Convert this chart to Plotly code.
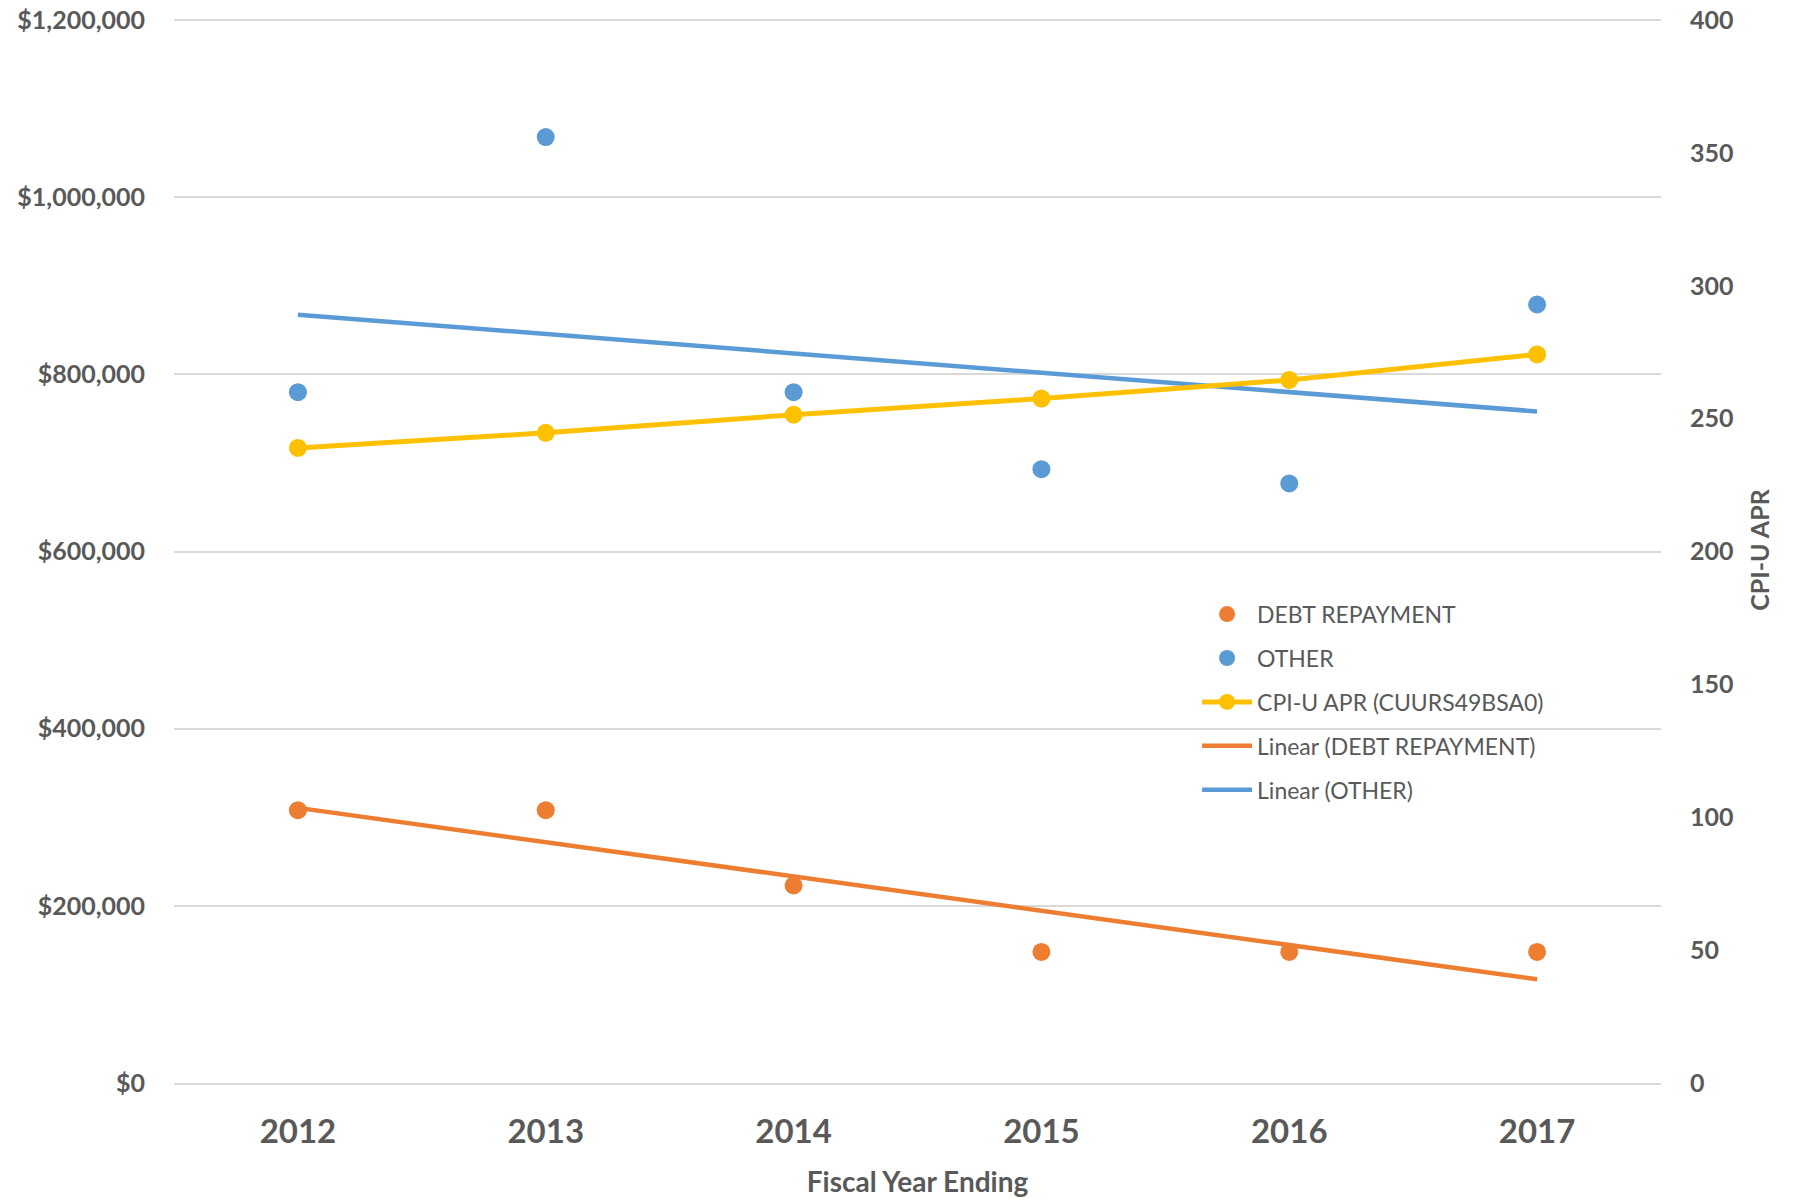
import numpy as np
import plotly.graph_objects as go

# Fiscal years (category axis)
years = ["2012", "2013", "2014", "2015", "2016", "2017"]

# Spending by category (dollars)
debt_repayment = [308000, 308000, 223000, 148000, 148000, 148000]
other = [780000, 1068000, 780000, 693000, 677000, 879000]

# CPI-U, April (CUURS49BSA0)
cpi_apr = [239.0, 244.7, 251.5, 257.6, 264.6, 274.2]

left_ticks = [0, 200000, 400000, 600000, 800000, 1000000, 1200000]
left_tick_text = ["$0", "$200,000", "$400,000", "$600,000", "$800,000", "$1,000,000", "$1,200,000"]
right_ticks = [0, 50, 100, 150, 200, 250, 300, 350, 400]

ORANGE = "#ED7D31"
BLUE = "#5B9BD5"
GOLD = "#FFC000"
TEXT = "#595959"
GRID = "#D9D9D9"
FONT = "Lato, 'Open Sans', sans-serif"

# small headroom so the top gridline is still drawn inside the plot area
HEAD = 1.003


def linear_trend(values):
    """Least-squares straight line through the series, evaluated at each year."""
    xs = np.arange(len(values))
    slope, intercept = np.polyfit(xs, values, 1)
    return (slope * xs + intercept).tolist()


fig = go.Figure()

fig.add_trace(go.Scatter(
    x=years, y=debt_repayment, name="DEBT REPAYMENT", mode="markers",
    marker=dict(color=ORANGE, size=18), legendgroup="a",
))
fig.add_trace(go.Scatter(
    x=years, y=other, name="OTHER", mode="markers",
    marker=dict(color=BLUE, size=18), legendgroup="b",
))
fig.add_trace(go.Scatter(
    x=years, y=cpi_apr, name="CPI-U APR (CUURS49BSA0)", mode="lines+markers",
    line=dict(color=GOLD, width=5), marker=dict(color=GOLD, size=18),
    yaxis="y2", legendgroup="c",
))
fig.add_trace(go.Scatter(
    x=years, y=linear_trend(debt_repayment), name="Linear (DEBT REPAYMENT)",
    mode="lines", line=dict(color=ORANGE, width=4.5), legendgroup="d",
))
fig.add_trace(go.Scatter(
    x=years, y=linear_trend(other), name="Linear (OTHER)",
    mode="lines", line=dict(color=BLUE, width=4.5), legendgroup="e",
))

fig.update_layout(
    width=1793, height=1200,
    margin=dict(l=174, r=132, t=17, b=117),
    paper_bgcolor="white", plot_bgcolor="white",
    font=dict(family=FONT, color=TEXT),
    showlegend=True,
    legend=dict(
        x=0.688, y=0.46, xanchor="left", yanchor="top",
        bgcolor="rgba(0,0,0,0)",
        font=dict(size=23, color=TEXT, family=FONT),
        traceorder="grouped", tracegroupgap=11,
        itemwidth=50,
    ),
    xaxis=dict(
        type="category", range=[-0.5, 5.5], automargin=False,
        showgrid=False, showline=True, linecolor=GRID, linewidth=2,
        ticks="", ticklabelstandoff=18,
        tickfont=dict(size=33, color=TEXT, family=FONT, weight="bold"),
        title=dict(text="Fiscal Year Ending", standoff=24,
                   font=dict(size=28, color=TEXT, family=FONT, weight="bold")),
    ),
    yaxis=dict(
        range=[0, 1200000 * HEAD], tickvals=left_ticks, ticktext=left_tick_text,
        automargin=False,
        showgrid=True, gridcolor=GRID, gridwidth=2, zeroline=False,
        ticks="", ticklabelstandoff=28, ticklabeloverflow="allow",
        tickfont=dict(size=25, color=TEXT, family=FONT, weight="bold"),
    ),
    yaxis2=dict(
        range=[0, 400 * HEAD], tickvals=right_ticks, overlaying="y", side="right",
        automargin=False,
        showgrid=False, zeroline=False, ticks="", ticklabelstandoff=28,
        ticklabeloverflow="allow",
        tickfont=dict(size=25, color=TEXT, family=FONT, weight="bold"),
        title=dict(text="CPI-U APR", standoff=18,
                   font=dict(size=25, color=TEXT, family=FONT, weight="bold")),
    ),
)

fig.write_html("out.html")
